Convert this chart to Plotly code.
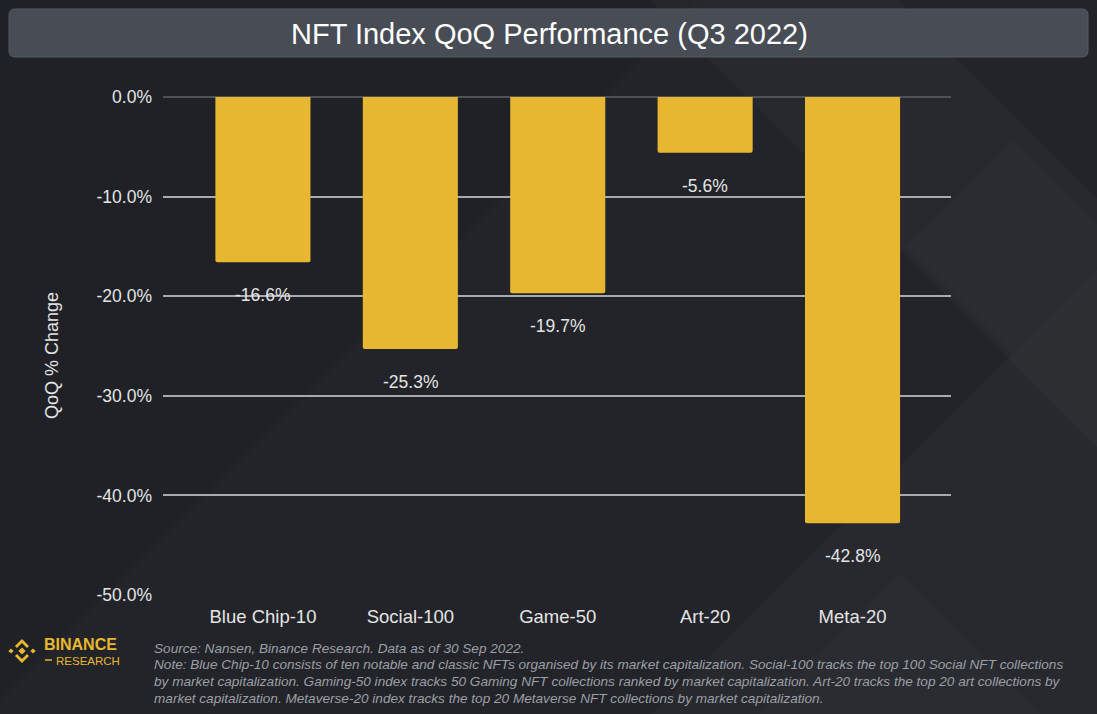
import plotly.graph_objects as go

# ---------------- data ----------------
categories = ["Blue Chip-10", "Social-100", "Game-50", "Art-20", "Meta-20"]
qoq_change = [-16.6, -25.3, -19.7, -5.6, -42.8]
y_ticks = [0, -10, -20, -30, -40, -50]
y_tick_labels = ["0.0%", "-10.0%", "-20.0%", "-30.0%", "-40.0%", "-50.0%"]

title_text = "NFT Index QoQ Performance (Q3 2022)"
y_title = "QoQ % Change"
footer_lines = [
    "Source: Nansen, Binance Research. Data as of 30 Sep 2022.",
    "Note: Blue Chip-10 consists of ten notable and classic NFTs organised by its market capitalization. Social-100 tracks the top 100 Social NFT collections",
    "by market capitalization. Gaming-50 index tracks 50 Gaming NFT collections ranked by market capitalization. Art-20 tracks the top 20 art collections by",
    "market capitalization. Metaverse-20 index tracks the top 20 Metaverse NFT collections by market capitalization.",
]

W, H = 1097, 714
BAR = "#E8B731"
TXT = "#E4E4E4"
FONT = "Liberation Sans, Arial, sans-serif"


def px(x):
    return x / W


def py(y):
    return 1 - y / H


def poly(points):
    return "M " + " L ".join(f"{px(x):.5f},{py(y):.5f}" for x, y in points) + " Z"


fig = go.Figure()
fig.add_trace(go.Bar(
    x=list(range(len(categories))),
    y=qoq_change,
    width=0.645,
    marker=dict(color=BAR, line=dict(width=0), cornerradius=2),
    hoverinfo="skip",
    showlegend=False,
))

shapes = []


def bg(points, alpha):
    shapes.append(dict(type="path", path=poly(points), xref="paper", yref="paper",
                       fillcolor=f"rgba(255,255,255,{alpha})", line=dict(width=0), layer="below"))


# subtle background geometric pattern (lighter bands on the right)
bg([(650, 0), (898, 0), (1097, 199), (1097, 447)], 0.025)
bg([(652, 714), (1097, 269), (1097, 714)], 0.022)
bg([(906, 246), (1013, 140), (1097, 224), (1097, 268), (1013, 353)], 0.015)
bg([(760, 714), (900, 574), (1040, 714)], 0.015)

# darker top-left
bg([(0, 0), (640, 0), (0, 640)], 0.0)
shapes.append(dict(type="path", path=poly([(0, 0), (700, 0), (0, 700)]), xref="paper", yref="paper",
                   fillcolor="rgba(0,0,0,0.07)", line=dict(width=0), layer="below"))

# title box
r = 6
x0, x1, y0, y1 = 9, 1088, 9, 57
path = (f"M {px(x0+r)},{py(y0)} L {px(x1-r)},{py(y0)} Q {px(x1)},{py(y0)} {px(x1)},{py(y0+r)} "
        f"L {px(x1)},{py(y1-r)} Q {px(x1)},{py(y1)} {px(x1-r)},{py(y1)} "
        f"L {px(x0+r)},{py(y1)} Q {px(x0)},{py(y1)} {px(x0)},{py(y1-r)} "
        f"L {px(x0)},{py(y0+r)} Q {px(x0)},{py(y0)} {px(x0+r)},{py(y0)} Z")
shapes.append(dict(type="path", path=path, xref="paper", yref="paper",
                   fillcolor="#474C55", line=dict(color="#555a63", width=1), layer="below"))

# Binance logo glyph
LOGO = "#E8B731"
lc = (22, 651)


def diamond(cx, cy, h):
    return [(cx, cy - h), (cx + h, cy), (cx, cy + h), (cx - h, cy)]


for pts in [diamond(lc[0], lc[1], 3.6), diamond(lc[0] - 11, lc[1], 2.6), diamond(lc[0] + 11, lc[1], 2.6)]:
    shapes.append(dict(type="path", path=poly(pts), xref="paper", yref="paper",
                       fillcolor=LOGO, line=dict(width=0)))
cx, cy = lc
top = [(cx, cy - 12), (cx + 7, cy - 5), (cx + 5, cy - 3), (cx, cy - 8), (cx - 5, cy - 3), (cx - 7, cy - 5)]
bot = [(cx, cy + 12), (cx + 7, cy + 5), (cx + 5, cy + 3), (cx, cy + 8), (cx - 5, cy + 3), (cx - 7, cy + 5)]
for pts in [top, bot]:
    shapes.append(dict(type="path", path=poly(pts), xref="paper", yref="paper",
                       fillcolor=LOGO, line=dict(width=0)))
shapes.append(dict(type="line", xref="paper", yref="paper", x0=px(45), x1=px(52), y0=py(660), y1=py(660),
                   line=dict(color=LOGO, width=1.5)))

annotations = []
# value labels below each bar
for i, v in enumerate(qoq_change):
    annotations.append(dict(x=i, y=v, xref="x", yref="y", text=f"{v:.1f}%", showarrow=False,
                            yshift=-33, font=dict(family=FONT, size=17.5, color=TXT)))

annotations.append(dict(x=px(549), y=py(34), xref="paper", yref="paper", text=title_text, showarrow=False,
                        font=dict(family=FONT, size=29, color="#FFFFFF"), xanchor="center", yanchor="middle"))
annotations.append(dict(x=px(52), y=py(356), xref="paper", yref="paper", text=y_title, showarrow=False,
                        textangle=-90, font=dict(family=FONT, size=18, color=TXT),
                        xanchor="center", yanchor="middle"))
annotations.append(dict(x=px(42), y=py(644), xref="paper", yref="paper", text="<b>BINANCE</b>", showarrow=False,
                        xanchor="left", yanchor="middle", font=dict(family=FONT, size=16, color=LOGO)))
annotations.append(dict(x=px(54), y=py(661), xref="paper", yref="paper", text="RESEARCH", showarrow=False,
                        xanchor="left", yanchor="middle", font=dict(family=FONT, size=11.5, color=LOGO)))
for k, line in enumerate(footer_lines):
    annotations.append(dict(x=px(152), y=py(648 + k * 16.7), xref="paper", yref="paper",
                            text=f"<i>{line}</i>", showarrow=False, xanchor="left", yanchor="middle",
                            font=dict(family=FONT, size=13.6, color="#9C9FA6")))

fig.update_layout(
    width=W, height=H,
    margin=dict(l=0, r=0, t=0, b=0, autoexpand=False),
    paper_bgcolor="#222429",
    plot_bgcolor="rgba(0,0,0,0)",
    shapes=shapes,
    annotations=annotations,
    font=dict(family=FONT, color=TXT),
    xaxis=dict(
        domain=[px(163), px(951)],
        range=[-0.678, 4.668],
        tickvals=list(range(len(categories))),
        ticktext=categories,
        tickfont=dict(family=FONT, size=18.5, color=TXT),
        showgrid=False, zeroline=False, showline=False, ticks="",
        ticklabelstandoff=8,
        automargin=False,
        fixedrange=True,
    ),
    yaxis=dict(
        domain=[py(595), py(97)],
        range=[-50, 0],
        tickvals=y_ticks,
        ticktext=y_tick_labels,
        tickfont=dict(family=FONT, size=17.5, color=TXT),
        showgrid=True, gridcolor="#A9AAAD", gridwidth=1.6,
        zeroline=True, zerolinecolor="#4E5157", zerolinewidth=1.6,
        showline=False, ticks="",
        ticklabelstandoff=10,
        automargin=False,
        fixedrange=True,
    ),
)

fig.write_html("out.html", config={"displayModeBar": False},
               post_script="document.body.style.margin='0';")
